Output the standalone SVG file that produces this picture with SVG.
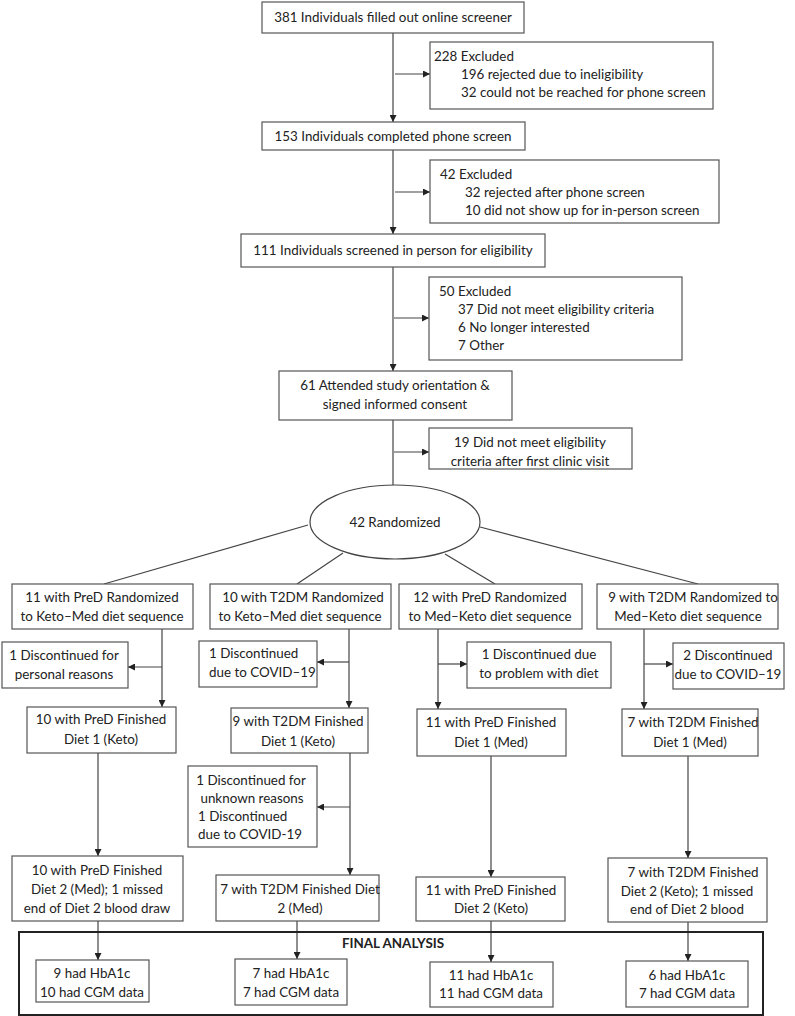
<svg xmlns="http://www.w3.org/2000/svg" width="795" height="1016" viewBox="0 0 795 1016">
<style>
.b{fill:#fff;stroke:#555;stroke-width:1.2}
.t{font-family:Lato,"Open Sans",sans-serif;font-size:13.4px;fill:#222}
.c{text-anchor:middle}
.l{fill:none;stroke:#444;stroke-width:1.2}
.a{fill:none;stroke:#444;stroke-width:1.2;marker-end:url(#ah)}
</style>
<defs>
<marker id="ah" viewBox="0 0 10 10" refX="10" refY="5" markerWidth="7" markerHeight="7" markerUnits="userSpaceOnUse" orient="auto">
<path d="M0,0 L10,5 L0,10 z" fill="#222"/>
</marker>
</defs>
<rect x="0" y="0" width="795" height="1016" fill="#fff"/>

<g id="connectors">
<line class="a" x1="393" y1="33" x2="393" y2="122"/>
<line class="a" x1="395" y1="74" x2="430" y2="74"/>
<line class="a" x1="393" y1="150" x2="393" y2="234"/>
<line class="a" x1="395" y1="192" x2="430" y2="192"/>
<line class="a" x1="393" y1="267" x2="393" y2="371"/>
<line class="a" x1="394" y1="318" x2="429" y2="318"/>
<line class="l" x1="393" y1="420" x2="393" y2="485"/>
<line class="a" x1="394" y1="452" x2="429" y2="452"/>
<line class="l" x1="308" y1="525" x2="104" y2="584"/>
<line class="l" x1="343" y1="553" x2="297" y2="584"/>
<line class="l" x1="445" y1="554" x2="495" y2="584"/>
<line class="l" x1="480" y1="527" x2="698" y2="584"/>
<line class="a" x1="162" y1="629" x2="162" y2="707"/>
<line class="a" x1="162" y1="667" x2="128" y2="667"/>
<line class="a" x1="349" y1="629" x2="349" y2="708"/>
<line class="a" x1="349" y1="662" x2="317" y2="662"/>
<line class="a" x1="438" y1="629" x2="438" y2="709"/>
<line class="a" x1="438" y1="664" x2="467" y2="664"/>
<line class="a" x1="644" y1="629" x2="644" y2="709"/>
<line class="a" x1="644" y1="664" x2="673" y2="664"/>
<line class="a" x1="98" y1="753" x2="98" y2="856"/>
<line class="a" x1="350" y1="753" x2="350" y2="875"/>
<line class="a" x1="350" y1="807" x2="317" y2="807"/>
<line class="a" x1="491" y1="756" x2="491" y2="877"/>
<line class="a" x1="688" y1="756" x2="688" y2="858"/>
<line class="a" x1="98" y1="921" x2="98" y2="960"/>
<line class="a" x1="297" y1="921" x2="297" y2="959"/>
<line class="a" x1="491" y1="921" x2="491" y2="962"/>
<line class="a" x1="688" y1="922" x2="688" y2="961"/>
</g>

<g id="n1"><rect class="b" x="262" y="2" width="262" height="31"/><text class="t c" x="393" y="22">381 Individuals filled out online screener</text></g>
<g id="ex1"><rect class="b" x="430" y="42" width="283" height="67"/>
<text class="t" x="434" y="61">228 Excluded</text>
<text class="t" x="461" y="79">196 rejected due to ineligibility</text>
<text class="t" x="461" y="97">32 could not be reached for phone screen</text></g>
<g id="n2"><rect class="b" x="262" y="122" width="263" height="28"/><text class="t c" x="393" y="141">153 Individuals completed phone screen</text></g>
<g id="ex2"><rect class="b" x="430" y="160" width="289" height="63"/>
<text class="t" x="440" y="179">42 Excluded</text>
<text class="t" x="465" y="197">32 rejected after phone screen</text>
<text class="t" x="465" y="215">10 did not show up for in-person screen</text></g>
<g id="n3"><rect class="b" x="241" y="234" width="304" height="33"/><text class="t c" x="393" y="255">111 Individuals screened in person for eligibility</text></g>
<g id="ex3"><rect class="b" x="429" y="277" width="253" height="83"/>
<text class="t" x="439" y="296">50 Excluded</text>
<text class="t" x="458" y="314">37 Did not meet eligibility criteria</text>
<text class="t" x="458" y="332">6 No longer interested</text>
<text class="t" x="458" y="350">7 Other</text></g>
<g id="n4"><rect class="b" x="279" y="371" width="233" height="49"/>
<text class="t c" x="395" y="390">61 Attended study orientation &amp;</text>
<text class="t c" x="395" y="409">signed informed consent</text></g>
<g id="ex4"><rect class="b" x="429" y="428" width="203" height="41"/>
<text class="t c" x="530" y="447">19 Did not meet eligibility</text>
<text class="t c" x="530" y="466">criteria after first clinic visit</text></g>
<g id="rand"><ellipse cx="395" cy="522" rx="85" ry="37" fill="#fff" stroke="#444" stroke-width="1.2"/>
<text class="t c" x="395" y="527">42 Randomized</text></g>

<g id="a1"><rect class="b" x="12" y="584" width="181" height="45"/>
<text class="t c" x="102" y="602">11 with PreD Randomized</text>
<text class="t c" x="102" y="621">to Keto–Med diet sequence</text></g>
<g id="b1"><rect class="b" x="210" y="584" width="181" height="45"/>
<text class="t c" x="303" y="602">10 with T2DM Randomized</text>
<text class="t c" x="300" y="621">to Keto–Med diet sequence</text></g>
<g id="c1"><rect class="b" x="399" y="584" width="183" height="45"/>
<text class="t c" x="490" y="602">12 with PreD Randomized</text>
<text class="t c" x="490" y="621">to Med–Keto diet sequence</text></g>
<g id="d1"><rect class="b" x="597" y="584" width="181" height="45"/>
<text class="t c" x="693" y="602">9 with T2DM Randomized to</text>
<text class="t c" x="688" y="621">Med–Keto diet sequence</text></g>

<g id="a1x"><rect class="b" x="2" y="642" width="126" height="46"/>
<text class="t c" x="64" y="660">1 Discontinued for</text>
<text class="t c" x="64" y="679">personal reasons</text></g>
<g id="b1x"><rect class="b" x="199" y="641" width="118" height="46"/>
<text class="t" x="209" y="658">1 Discontinued</text>
<text class="t" x="209" y="677">due to COVID–19</text></g>
<g id="c1x"><rect class="b" x="467" y="642" width="144" height="46"/>
<text class="t c" x="539" y="659">1 Discontinued due</text>
<text class="t c" x="539" y="678">to problem with diet</text></g>
<g id="d1x"><rect class="b" x="673" y="643" width="111" height="46"/>
<text class="t c" x="728" y="660">2 Discontinued</text>
<text class="t c" x="728" y="679">due to COVID–19</text></g>

<g id="a2"><rect class="b" x="27" y="707" width="149" height="46"/>
<text class="t c" x="101" y="724">10 with PreD Finished</text>
<text class="t c" x="101" y="744">Diet 1 (Keto)</text></g>
<g id="b2"><rect class="b" x="231" y="708" width="137" height="45"/>
<text class="t c" x="298" y="726">9 with T2DM  Finished</text>
<text class="t c" x="298" y="746">Diet 1 (Keto)</text></g>
<g id="c2"><rect class="b" x="417" y="709" width="149" height="47"/>
<text class="t c" x="491" y="727">11 with PreD Finished</text>
<text class="t c" x="491" y="747">Diet 1 (Med)</text></g>
<g id="d2"><rect class="b" x="622" y="709" width="136" height="47"/>
<text class="t c" x="693" y="727">7 with T2DM Finished</text>
<text class="t c" x="690" y="747">Diet 1 (Med)</text></g>

<g id="b2x"><rect class="b" x="188" y="766" width="129" height="81"/>
<text class="t c" x="251" y="785">1 Discontinued for</text>
<text class="t c" x="252" y="803">unknown reasons</text>
<text class="t" x="198" y="821">1 Discontinued</text>
<text class="t" x="198" y="839">due to COVID-19</text></g>

<g id="a3"><rect class="b" x="12" y="856" width="171" height="65"/>
<text class="t c" x="97" y="875">10 with PreD Finished</text>
<text class="t c" x="97" y="894">Diet 2 (Med); 1 missed</text>
<text class="t c" x="97" y="913">end of Diet 2 blood draw</text></g>
<g id="b3"><rect class="b" x="216" y="875" width="163" height="46"/>
<text class="t c" x="300" y="894">7 with T2DM Finished Diet</text>
<text class="t c" x="300" y="913">2 (Med)</text></g>
<g id="c3"><rect class="b" x="416" y="877" width="149" height="44"/>
<text class="t c" x="491" y="895">11 with PreD Finished</text>
<text class="t c" x="491" y="913">Diet 2 (Keto)</text></g>
<g id="d3"><rect class="b" x="608" y="858" width="159" height="64"/>
<text class="t c" x="693" y="877">7 with T2DM  Finished</text>
<text class="t c" x="687" y="896">Diet 2 (Keto); 1 missed</text>
<text class="t c" x="687" y="914">end of Diet 2 blood</text></g>

<g id="final"><rect x="19" y="932" width="744" height="83" fill="none" stroke="#222" stroke-width="2"/>
<text class="t c" x="393" y="948" font-weight="bold" font-size="14px">FINAL ANALYSIS</text></g>

<g id="a4"><rect class="b" x="36" y="960" width="113" height="42"/>
<text class="t c" x="92" y="978">9 had HbA1c</text>
<text class="t c" x="92" y="997">10 had CGM data</text></g>
<g id="b4"><rect class="b" x="235" y="959" width="112" height="46"/>
<text class="t c" x="291" y="978">7 had HbA1c</text>
<text class="t c" x="291" y="997">7 had CGM data</text></g>
<g id="c4"><rect class="b" x="430" y="962" width="123" height="45"/>
<text class="t c" x="491" y="980">11 had HbA1c</text>
<text class="t c" x="491" y="998">11 had CGM data</text></g>
<g id="d4"><rect class="b" x="626" y="961" width="122" height="46"/>
<text class="t c" x="687" y="980">6 had HbA1c</text>
<text class="t c" x="687" y="998">7 had CGM data</text></g>
</svg>
